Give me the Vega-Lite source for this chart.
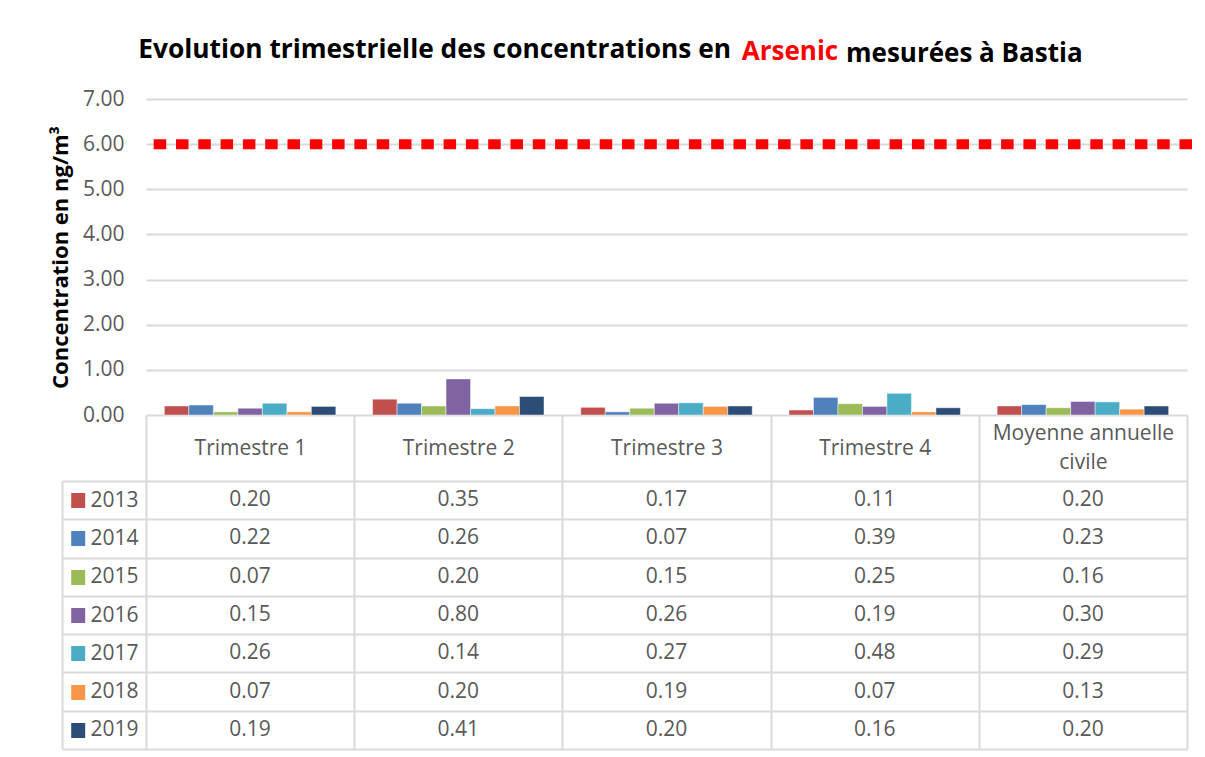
{
  "$schema": "https://vega.github.io/schema/vega-lite/v6.json",
  "background": "white",
  "padding": {"left": 49, "top": 36, "right": 5, "bottom": 5},
  "config": {"view": {"stroke": null}, "font": "Open Sans"},
  "datasets": {
    "d": [
      {"q": "Trimestre 1", "year": "2013", "v": 0.20},
      {"q": "Trimestre 2", "year": "2013", "v": 0.35},
      {"q": "Trimestre 3", "year": "2013", "v": 0.17},
      {"q": "Trimestre 4", "year": "2013", "v": 0.11},
      {"q": "Moyenne annuelle civile", "year": "2013", "v": 0.20},
      {"q": "Trimestre 1", "year": "2014", "v": 0.22},
      {"q": "Trimestre 2", "year": "2014", "v": 0.26},
      {"q": "Trimestre 3", "year": "2014", "v": 0.07},
      {"q": "Trimestre 4", "year": "2014", "v": 0.39},
      {"q": "Moyenne annuelle civile", "year": "2014", "v": 0.23},
      {"q": "Trimestre 1", "year": "2015", "v": 0.07},
      {"q": "Trimestre 2", "year": "2015", "v": 0.20},
      {"q": "Trimestre 3", "year": "2015", "v": 0.15},
      {"q": "Trimestre 4", "year": "2015", "v": 0.25},
      {"q": "Moyenne annuelle civile", "year": "2015", "v": 0.16},
      {"q": "Trimestre 1", "year": "2016", "v": 0.15},
      {"q": "Trimestre 2", "year": "2016", "v": 0.80},
      {"q": "Trimestre 3", "year": "2016", "v": 0.26},
      {"q": "Trimestre 4", "year": "2016", "v": 0.19},
      {"q": "Moyenne annuelle civile", "year": "2016", "v": 0.30},
      {"q": "Trimestre 1", "year": "2017", "v": 0.26},
      {"q": "Trimestre 2", "year": "2017", "v": 0.14},
      {"q": "Trimestre 3", "year": "2017", "v": 0.27},
      {"q": "Trimestre 4", "year": "2017", "v": 0.48},
      {"q": "Moyenne annuelle civile", "year": "2017", "v": 0.29},
      {"q": "Trimestre 1", "year": "2018", "v": 0.07},
      {"q": "Trimestre 2", "year": "2018", "v": 0.20},
      {"q": "Trimestre 3", "year": "2018", "v": 0.19},
      {"q": "Trimestre 4", "year": "2018", "v": 0.07},
      {"q": "Moyenne annuelle civile", "year": "2018", "v": 0.13},
      {"q": "Trimestre 1", "year": "2019", "v": 0.19},
      {"q": "Trimestre 2", "year": "2019", "v": 0.41},
      {"q": "Trimestre 3", "year": "2019", "v": 0.20},
      {"q": "Trimestre 4", "year": "2019", "v": 0.16},
      {"q": "Moyenne annuelle civile", "year": "2019", "v": 0.20}
    ]
  },
  "title": {"text": "mesurées à Bastia", "anchor": "start", "frame": "group", "align": "left", "dx": 700, "dy": 51, "fontSize": 26, "font": "Open Sans", "fontWeight": "bold", "color": "#000000", "baseline": "alphabetic", "offset": 0},
  "bounds": "flush",
  "spacing": 66,
  "vconcat": [
    {
      "width": 1041,
      "height": 316,
      "title": {"text": "Evolution trimestrielle des concentrations en", "anchor": "start", "frame": "group", "align": "right", "dx": 585, "fontSize": 26.3, "font": "Open Sans", "fontWeight": "bold", "color": "#000000", "baseline": "alphabetic", "offset": 4},
      "layer": [
        {
          "data": {"name": "d"},
          "mark": {"type": "bar", "stroke": "white", "strokeWidth": 1, "strokeOpacity": 0.45},
          "encoding": {
            "x": {"field": "q", "type": "nominal", "sort": ["Trimestre 1", "Trimestre 2", "Trimestre 3", "Trimestre 4", "Moyenne annuelle civile"], "scale": {"paddingInner": 0, "paddingOuter": 0}, "axis": null},
            "xOffset": {"field": "year", "type": "nominal", "scale": {"paddingInner": 0, "paddingOuter": 0.75}},
            "y": {
              "field": "v", "type": "quantitative",
              "scale": {"domain": [0, 7], "nice": false},
              "axis": {
                "values": [0, 1, 2, 3, 4, 5, 6, 7], "format": ".2f",
                "domain": false, "ticks": false,
                "labelFont": "Open Sans", "labelFontSize": 21, "labelColor": "#595959", "labelPadding": 22,
                "gridColor": "#D9D9D9", "gridWidth": 2,
                "title": "Concentration en ng/m³", "titleFont": "Open Sans", "titleFontSize": 22, "titleFontWeight": "bold", "titleColor": "#000000", "titlePadding": 10
              }
            },
            "color": {
              "field": "year", "type": "nominal",
              "scale": {"domain": ["2013", "2014", "2015", "2016", "2017", "2018", "2019"], "range": ["#C0504D", "#4F81BD", "#9BBB59", "#8064A2", "#4BACC6", "#F79646", "#2C4D75"]},
              "legend": null
            }
          }
        },
        {
          "data": {"values": [{"limite": 6}]},
          "mark": {"type": "rule", "color": "#FF0000", "strokeWidth": 10, "strokeDash": [2.5, 19.8], "strokeCap": "square"},
          "encoding": {"y": {"field": "limite", "type": "quantitative"}}
        }
      ]
    },
    {
      "width": 1041,
      "height": 268,
      "title": {"text": "Arsenic", "anchor": "start", "frame": "group", "align": "center", "dx": 644, "fontSize": 26, "font": "Open Sans", "fontWeight": "bold", "color": "#FF0000", "baseline": "alphabetic", "offset": 328},
      "data": {"name": "d"},
      "layer": [
        {
          "mark": {"type": "text", "font": "Open Sans", "fontSize": 21, "color": "#595959"},
          "encoding": {
            "x": {
              "field": "q", "type": "nominal",
              "sort": ["Trimestre 1", "Trimestre 2", "Trimestre 3", "Trimestre 4", "Moyenne annuelle civile"],
              "scale": {"paddingInner": 0, "paddingOuter": 0},
              "axis": {
                "orient": "top", "title": null, "domain": false,
                "ticks": true, "tickBand": "extent", "tickSize": 66, "tickColor": "#D9D9D9", "tickWidth": 2,
                "grid": true, "gridColor": "#D9D9D9", "gridWidth": 2,
                "labelAngle": 0, "labelFont": "Open Sans", "labelFontSize": 21, "labelColor": "#595959", "labelLimit": 400,
                "labelPadding": {"condition": {"test": "datum.value == 'Moyenne annuelle civile'", "value": -18.5}, "value": -33},
                "labelBaseline": "middle", "labelLineHeight": 29,
                "labelExpr": "datum.value == 'Moyenne annuelle civile' ? ['Moyenne annuelle', 'civile'] : datum.value"
              }
            },
            "y": {
              "field": "year", "type": "nominal",
              "scale": {"paddingInner": 0, "paddingOuter": 0},
              "axis": {
                "orient": "left", "title": null, "offset": 84,
                "domain": true, "domainColor": "#D9D9D9", "domainWidth": 2,
                "ticks": true, "tickBand": "extent", "tickSize": -84, "tickColor": "#D9D9D9", "tickWidth": 2,
                "grid": true, "gridColor": "#D9D9D9", "gridWidth": 2,
                "labelFont": "Open Sans", "labelFontSize": 21, "labelColor": "#595959",
                "labelAlign": "left", "labelPadding": 56
              }
            },
            "text": {"field": "v", "type": "quantitative", "format": ".2f"}
          }
        },
        {
          "mark": {"type": "text", "opacity": 0},
          "encoding": {
            "y": {
              "field": "year", "type": "nominal",
              "scale": {"paddingInner": 0, "paddingOuter": 0},
              "axis": {
                "orient": "left", "title": null, "offset": 61.3,
                "domain": false, "grid": false, "labels": false,
                "ticks": true, "tickSize": 14, "tickWidth": 15, "tickCap": "butt",
                "tickColor": {
                  "condition": [
                    {"test": "datum.value === '2013'", "value": "#C0504D"},
                    {"test": "datum.value === '2014'", "value": "#4F81BD"},
                    {"test": "datum.value === '2015'", "value": "#9BBB59"},
                    {"test": "datum.value === '2016'", "value": "#8064A2"},
                    {"test": "datum.value === '2017'", "value": "#4BACC6"},
                    {"test": "datum.value === '2018'", "value": "#F79646"}
                  ],
                  "value": "#2C4D75"
                }
              }
            },
            "text": {"field": "v", "type": "quantitative", "format": ".2f"}
          }
        }
      ],
      "resolve": {"scale": {"y": "independent"}, "axis": {"y": "independent"}}
    }
  ]
}
